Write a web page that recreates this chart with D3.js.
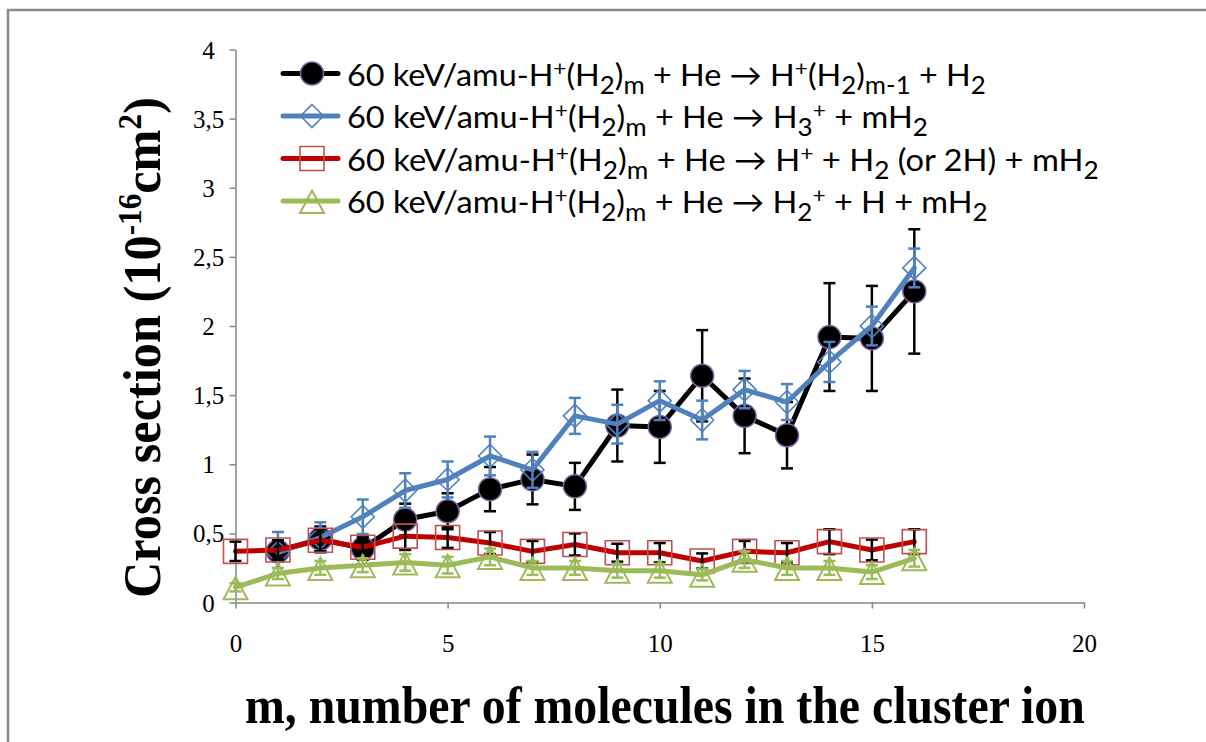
<!DOCTYPE html>
<html><head><meta charset="utf-8">
<script src="https://cdn.jsdelivr.net/npm/d3@7"></script>
<style>html,body{margin:0;padding:0;background:#fff;}svg{display:block;}</style>
</head><body>
<svg id="chart" width="1206" height="742"></svg>
<script>
// ---- data ----
const mBlack = [1,2,3,4,5,6,7,8,9,10,11,12,13,14,15,16];
const blackVals = [0.37,0.46,0.39,0.60,0.66,0.82,0.89,0.84,1.28,1.27,1.64,1.35,1.21,1.92,1.91,2.25];
const blackErr  = [0.07,0.09,0.08,0.115,0.13,0.16,0.18,0.17,0.26,0.26,0.33,0.27,0.24,0.39,0.38,0.45];

const mBlue = [1,2,3,4,5,6,7,8,9,10,11,12,13,14,15,16];
const blueVals = [0.36,0.47,0.62,0.81,0.89,1.06,0.96,1.35,1.29,1.46,1.32,1.54,1.45,1.74,2.00,2.42];
const blueErr  = [0.15,0.11,0.125,0.125,0.13,0.14,0.13,0.13,0.14,0.14,0.14,0.135,0.13,0.145,0.14,0.14];

const mRed = [0,1,2,3,4,5,6,7,8,9,10,11,12,13,14,15,16];
const redVals = [0.37,0.38,0.45,0.40,0.48,0.47,0.43,0.37,0.42,0.36,0.36,0.30,0.37,0.36,0.44,0.38,0.44];
const redErr  = [0.07,0.07,0.08,0.07,0.10,0.075,0.08,0.075,0.08,0.065,0.07,0.055,0.075,0.07,0.09,0.075,0.09];

const mGreen = [0,1,2,3,4,5,6,7,8,9,10,11,12,13,14,15,16];
const greenVals = [0.11,0.21,0.25,0.27,0.29,0.27,0.33,0.25,0.25,0.23,0.23,0.20,0.31,0.25,0.25,0.22,0.32];
const greenErr  = [0.03,0.04,0.05,0.05,0.06,0.06,0.06,0.05,0.05,0.05,0.05,0.04,0.06,0.05,0.05,0.05,0.06];

const xTicks = [0,5,10,15,20];
const yTicks = [0,0.5,1,1.5,2,2.5,3,3.5,4];
const yTickLabels = ["0","0,5","1","1,5","2","2,5","3","3,5","4"];

const xTitle = "m, number of molecules in the cluster ion";
const yTitleParts = [["Cross section (10","n"],["-16","sup"],["cm","n"],["2","sup"],[")","n"]];
const legendParts = [
  [["60 keV/amu-H","n"],["+","sup"],["(H","n"],["2","sub"],[")","n"],["m","sub"],[" + He \u2192 H","n"],["+","sup"],["(H","n"],["2","sub"],[")","n"],["m-1","sub"],[" + H","n"],["2","sub"]],
  [["60 keV/amu-H","n"],["+","sup"],["(H","n"],["2","sub"],[")","n"],["m","sub"],[" + He \u2192 H","n"],["3","sub"],["+","sup"],[" + mH","n"],["2","sub"]],
  [["60 keV/amu-H","n"],["+","sup"],["(H","n"],["2","sub"],[")","n"],["m","sub"],[" + He \u2192 H","n"],["+","sup"],[" + H","n"],["2","sub"],[" (or 2H) + mH","n"],["2","sub"]],
  [["60 keV/amu-H","n"],["+","sup"],["(H","n"],["2","sub"],[")","n"],["m","sub"],[" + He \u2192 H","n"],["2","sub"],["+","sup"],[" + H + mH","n"],["2","sub"]]
];

// ---- setup ----
const svg = d3.select("#chart");
const x = d3.scaleLinear().domain([0,20]).range([235.5,1084]);
const y = d3.scaleLinear().domain([0,4]).range([602.5,49.5]);

svg.append("rect").attr("x",8).attr("y",10).attr("width",1400).attr("height",900)
  .attr("fill","none").attr("stroke","#8a8a8a").attr("stroke-width",2.5);

// axes
const axisColor = "#868686";
const serif = "'Liberation Serif','Times New Roman',serif";
const gy = svg.append("g").attr("transform","translate(235.5,0)")
  .call(d3.axisLeft(y).tickValues(yTicks).tickSize(6).tickSizeOuter(0)
    .tickFormat((d,i)=>yTickLabels[i]));
gy.attr("font-size",null).attr("font-family",null);
gy.select(".domain").attr("stroke",axisColor).attr("stroke-width",1.5);
gy.selectAll(".tick line").attr("stroke",axisColor).attr("stroke-width",1.5);
gy.selectAll(".tick text").attr("x",-27).attr("text-anchor","middle").attr("dy","0.34em")
  .style("font-family",serif).style("font-size","25px").attr("fill","#000");

const gx = svg.append("g").attr("transform","translate(0,602.5)")
  .call(d3.axisBottom(x).tickValues(xTicks).tickSize(6).tickSizeOuter(0).tickPadding(26));
gx.attr("font-size",null).attr("font-family",null);
gx.select(".domain").attr("stroke",axisColor).attr("stroke-width",1.5);
gx.selectAll(".tick line").attr("stroke",axisColor).attr("stroke-width",1.5);
gx.selectAll(".tick text").style("font-family",serif).style("font-size","25px").attr("fill","#000");

// rich text helper
function richText(g, parts, fs, subDy, supDy, subScale, supScale) {
  const t = g.append("text");
  let cur = 0;
  parts.forEach(([s,k]) => {
    const target = k==="sub" ? subDy : (k==="sup" ? supDy : 0);
    const ts = t.append("tspan").text(s).attr("dy", target - cur);
    if (k==="sub") ts.attr("font-size", fs*subScale);
    else if (k==="sup") ts.attr("font-size", fs*supScale);
    cur = target;
  });
  return t;
}

// series drawing
const cross = (mArr, vArr, eArr) => mArr.map((m,i)=>({m, v:vArr[i], e:eArr[i]}));
const series = [
  {data: cross(mBlack,blackVals,blackErr), line:"#000000", err:"#000000", marker:"circle", mstroke:"#8064a2", mfill:"#000000"},
  {data: cross(mBlue,blueVals,blueErr), line:"#4f81bd", err:"#4f81bd", marker:"diamond", mstroke:"#4f81bd", mfill:"none"},
  {data: cross(mRed,redVals,redErr), line:"#c00000", err:"#000000", marker:"square", mstroke:"#c0504d", mfill:"none"},
  {data: cross(mGreen,greenVals,greenErr), line:"#9bbb59", err:"#9bbb59", marker:"triangle", mstroke:"#9bbb59", mfill:"none"}
];
const markerPath = {
  diamond: "M0,-11.5L11.5,0L0,11.5L-11.5,0Z",
  square: "M-12,-12H12V12H-12Z",
  triangle: "M0,-10.5L12,12L-12,12Z"
};
function drawMarker(g, s, cx, cy) {
  if (s.marker==="circle") {
    g.append("circle").attr("cx",cx).attr("cy",cy).attr("r",11.5)
      .attr("fill",s.mfill).attr("stroke",s.mstroke).attr("stroke-width",1.5);
  } else {
    g.append("path").attr("d",markerPath[s.marker]).attr("transform",`translate(${cx},${cy})`)
      .attr("fill",s.mfill).attr("stroke",s.mstroke).attr("stroke-width",s.marker==="triangle"?2:1.6);
  }
}
const lineGen = d3.line().x(d=>x(d.m)).y(d=>y(d.v));
series.forEach(s => {
  const g = svg.append("g");
  g.append("path").attr("d", lineGen(s.data)).attr("fill","none").attr("stroke",s.line)
    .attr("stroke-width",5).attr("stroke-linejoin","round").attr("stroke-linecap","round");
  const eg = g.append("g").attr("stroke",s.err).attr("stroke-width",2.5);
  s.data.forEach(d => {
    const cx = x(d.m), y1 = y(d.v+d.e), y2 = y(d.v-d.e);
    eg.append("line").attr("x1",cx).attr("x2",cx).attr("y1",y1).attr("y2",y2);
    eg.append("line").attr("x1",cx-6).attr("x2",cx+6).attr("y1",y1).attr("y2",y1);
    eg.append("line").attr("x1",cx-6).attr("x2",cx+6).attr("y1",y2).attr("y2",y2);
  });
  const mg = g.append("g");
  s.data.forEach(d => drawMarker(mg, s, x(d.m), y(d.v)));
});

// legend
const legBase = [86,128.5,171,213.5];
const legTargets = [639,581,752,641];
series.forEach((s,i) => {
  const g = svg.append("g");
  const ly = legBase[i]-12.5;
  g.append("line").attr("x1",283).attr("x2",338).attr("y1",ly).attr("y2",ly)
    .attr("stroke",s.line).attr("stroke-width",5).attr("stroke-linecap","round");
  drawMarker(g, s, 312, ly);
  const tg = g.append("g");
  const t = richText(tg, legendParts[i], 31, 8, -10, 0.8, 0.7);
  t.attr("x",347).attr("y",legBase[i]).attr("font-family","Lato,'Open Sans',sans-serif")
    .attr("font-size",31).attr("fill","#000");
  const sc = legTargets[i] / t.node().getBBox().width;
  tg.attr("transform",`translate(347,0) scale(${sc},1) translate(-347,0)`);
});

// x title
{
  const tg = svg.append("g");
  const t = tg.append("text").text(xTitle).attr("x",0).attr("y",723)
    .attr("font-family",serif).attr("font-weight","bold")
    .attr("font-size",53).attr("fill","#000");
  const w = t.node().getBBox().width;
  tg.attr("transform",`translate(245,0) scale(${840 / w},1)`);
}
// y title
{
  const outer = svg.append("g").attr("transform","translate(160,598) rotate(-90)");
  const tg = outer.append("g");
  const t = richText(tg, yTitleParts, 53, 0, -19, 1, 0.62);
  t.attr("x",0).attr("y",0).attr("font-family",serif)
    .attr("font-weight","bold").attr("font-size",53).attr("fill","#000");
  const w = t.node().getBBox().width;
  tg.attr("transform",`scale(${501/w},1)`);
}
</script>
</body></html>
